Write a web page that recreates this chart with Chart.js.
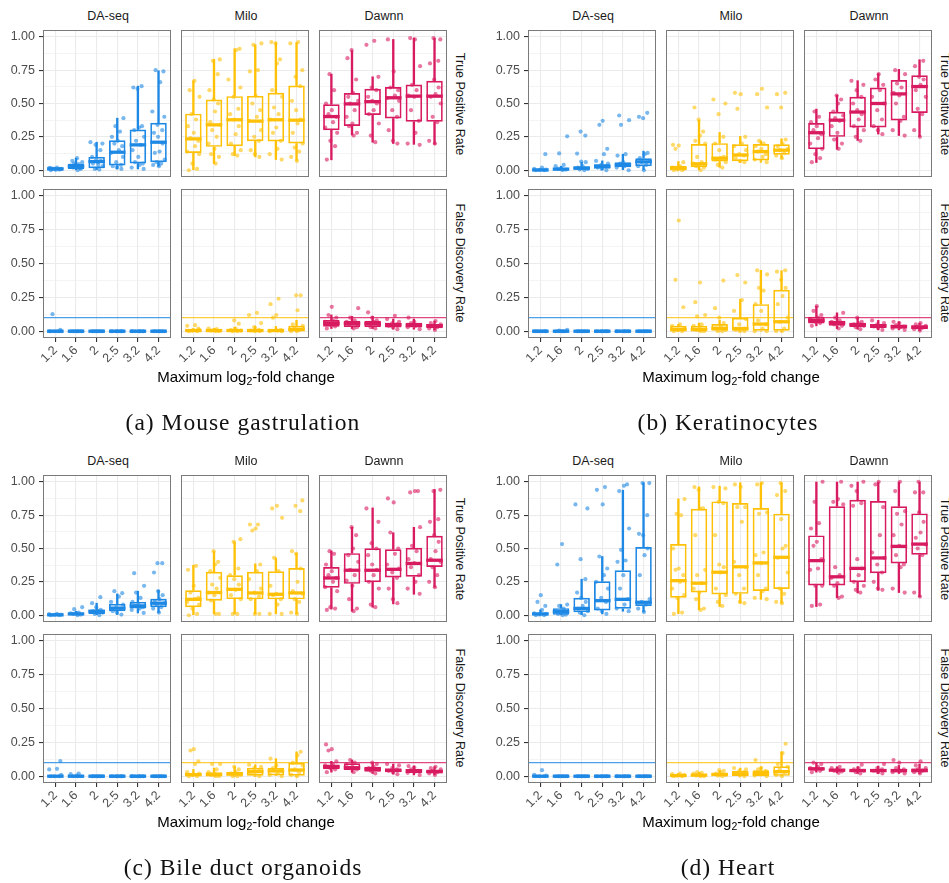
<!DOCTYPE html>
<html><head><meta charset="utf-8">
<script src="https://cdn.jsdelivr.net/npm/chart.js@4.4.1/dist/chart.umd.min.js"></script>
<style>
html,body{margin:0;padding:0;background:#fff;}
#root{position:relative;width:949px;height:883px;overflow:hidden;background:#fff;}
.lbl{position:absolute;transform:translate(-50%,-50%);white-space:nowrap;font-family:'Liberation Sans',Arial,sans-serif;line-height:1;}
.strip{font-size:12.5px;color:#1A1A1A;}
.vstrip{font-size:12.5px;color:#1A1A1A;writing-mode:vertical-rl;}
.xtitle{font-size:15px;color:#000;}
.xtitle sub{font-size:10.5px;vertical-align:-3px;line-height:0;}
.cap{font-family:'Liberation Serif','DejaVu Serif',serif;font-size:23.5px;color:#111;letter-spacing:1px;}
.facet{position:absolute;}
</style></head><body><div id="root"></div>
<script>
// ---------------- data ----------------
const categories = ['1.2','1.6','2','2.5','3.2','4.2'];
const methods = ['DA-seq','Milo','Dawnn'];
const metrics = ['True Positive Rate','False Discovery Rate'];
const captions = ['(a) Mouse gastrulation','(b) Keratinocytes','(c) Bile duct organoids','(d) Heart'];
const yMajorTicks = [0,0.25,0.5,0.75,1];
const yMinorTicks = [0.125,0.375,0.625,0.875];
const fdrTarget = 0.1;
// box stats per category: [lower whisker, Q1, median, Q3, upper whisker]

// (a) Mouse gastrulation
const mouseTprDaseqBox = [[0,0.005,0.01,0.015,0.02],[0,0.01,0.03,0.048,0.09],[0.005,0.015,0.065,0.10,0.21],[0.01,0.036,0.135,0.225,0.39],[0.01,0.05,0.19,0.305,0.63],[0.03,0.06,0.21,0.355,0.745]];
const mouseTprDaseqPts = [[0,0.005,0.01,0.01,0.015,0.02,0.008,0.012,0.003,0.018],[0,0.01,0.02,0.03,0.035,0.045,0.05,0.06,0.07,0.09,0.015,0.04],[0.005,0.01,0.03,0.05,0.06,0.07,0.08,0.1,0.15,0.19,0.2,0.21,0.04],[0.01,0.02,0.03,0.04,0.06,0.1,0.13,0.15,0.18,0.2,0.22,0.25,0.29,0.33,0.39],[0.01,0.02,0.04,0.05,0.06,0.1,0.15,0.19,0.22,0.25,0.3,0.32,0.33,0.61,0.62,0.63],[0.03,0.04,0.05,0.06,0.08,0.13,0.14,0.2,0.25,0.28,0.3,0.34,0.4,0.44,0.66,0.74,0.75]];
const mouseTprMiloBox = [[0,0.13,0.235,0.424,0.67],[0.05,0.175,0.34,0.53,0.83],[0.11,0.18,0.378,0.555,0.91],[0.1,0.218,0.368,0.557,0.94],[0.08,0.216,0.378,0.58,0.957],[0.073,0.2,0.375,0.635,0.957]];
const mouseTprMiloPts = [[0,0.01,0.05,0.12,0.14,0.18,0.22,0.24,0.28,0.33,0.38,0.42,0.55,0.6,0.67],[0.05,0.1,0.12,0.16,0.2,0.25,0.3,0.34,0.36,0.44,0.5,0.53,0.6,0.72,0.82,0.83],[0.11,0.12,0.15,0.2,0.27,0.33,0.38,0.42,0.46,0.55,0.62,0.68,0.9,0.91],[0.1,0.12,0.15,0.22,0.25,0.3,0.37,0.4,0.45,0.5,0.56,0.74,0.75,0.94,0.95],[0.08,0.12,0.16,0.22,0.28,0.32,0.38,0.42,0.47,0.55,0.6,0.8,0.83,0.95,0.96],[0.07,0.1,0.14,0.17,0.2,0.28,0.35,0.38,0.45,0.52,0.63,0.7,0.75,0.95,0.96]];
const mouseTprDawnnBox = [[0.078,0.30,0.402,0.494,0.72],[0.264,0.332,0.497,0.579,0.896],[0.21,0.414,0.514,0.61,0.70],[0.2,0.388,0.543,0.623,0.98],[0.194,0.363,0.555,0.642,0.99],[0.194,0.363,0.555,0.671,0.99]];
const mouseTprDawnnPts = [[0.08,0.18,0.22,0.28,0.32,0.36,0.4,0.42,0.45,0.5,0.6,0.72],[0.26,0.28,0.33,0.35,0.4,0.45,0.5,0.52,0.55,0.58,0.68,0.9,0.84],[0.21,0.26,0.35,0.42,0.45,0.5,0.52,0.55,0.6,0.62,0.7,0.94,0.97],[0.2,0.22,0.3,0.4,0.45,0.52,0.54,0.56,0.6,0.62,0.74,0.98],[0.19,0.2,0.28,0.37,0.45,0.55,0.56,0.6,0.64,0.78,0.99,0.98],[0.2,0.22,0.36,0.4,0.5,0.55,0.57,0.62,0.68,0.8,0.82,0.99,0.98]];
const mouseFdrDaseqBox = [[0,0,0,0,0],[0,0,0,0,0],[0,0,0,0,0],[0,0,0,0,0],[0,0,0,0,0],[0,0,0,0,0]];
const mouseFdrDaseqPts = [[0,0,0,0,0,0,0.01,0.126],[0,0,0,0,0,0,0,0],[0,0,0,0,0,0,0,0],[0,0,0,0,0,0,0,0],[0,0,0,0,0,0,0,0],[0,0,0,0,0,0,0,0]];
const mouseFdrMiloBox = [[0,0,0.005,0.01,0.02],[0,0,0.005,0.01,0.02],[0,0,0.005,0.012,0.03],[0,0,0.005,0.015,0.035],[0,0,0.005,0.015,0.035],[0,0,0.012,0.04,0.08]];
const mouseFdrMiloPts = [[0,0,0.005,0.01,0.04,0.045,0.02],[0,0,0.005,0.01,0.02,0.015],[0,0,0.005,0.01,0.02,0.056,0.08],[0,0,0.005,0.01,0.03,0.06,0.12,0.136],[0,0,0.005,0.01,0.1,0.12,0.2,0.24],[0,0,0.01,0.02,0.04,0.05,0.155,0.265,0.265]];
const mouseFdrDawnnBox = [[0.02,0.034,0.058,0.083,0.12],[0.02,0.032,0.058,0.078,0.11],[0.02,0.032,0.056,0.078,0.11],[0.015,0.027,0.049,0.063,0.09],[0.015,0.027,0.044,0.063,0.09],[0.01,0.022,0.041,0.053,0.075]];
const mouseFdrDawnnPts = [[0.02,0.035,0.05,0.06,0.07,0.08,0.1,0.12,0.18],[0.02,0.03,0.05,0.06,0.07,0.08,0.1,0.17],[0.02,0.03,0.05,0.06,0.07,0.08,0.1,0.14],[0.015,0.03,0.04,0.05,0.06,0.07,0.09,0.114],[0.015,0.03,0.04,0.045,0.06,0.07,0.1],[0.01,0.02,0.03,0.04,0.05,0.06,0.075]];

// (b) Keratinocytes
const keraTprDaseqBox = [[0,0,0.002,0.005,0.01],[0,0.003,0.008,0.015,0.03],[0,0.005,0.015,0.03,0.06],[0,0.012,0.03,0.044,0.07],[0,0.022,0.04,0.06,0.12],[0,0.03,0.063,0.09,0.143]];
const keraTprDaseqPts = [[0,0,0.002,0.005,0.01,0.02,0.12],[0,0.005,0.01,0.015,0.03,0.04,0.126,0.254],[0,0.005,0.01,0.02,0.03,0.06,0.065,0.125,0.26,0.29],[0,0.01,0.02,0.03,0.04,0.05,0.07,0.12,0.16,0.34,0.37],[0,0.02,0.03,0.04,0.05,0.06,0.11,0.12,0.34,0.375,0.41],[0,0.03,0.04,0.06,0.07,0.09,0.12,0.13,0.39,0.40,0.43]];
const keraTprMiloBox = [[0,0,0.015,0.034,0.065],[0,0.022,0.048,0.196,0.375],[0.022,0.065,0.09,0.203,0.283],[0.058,0.068,0.114,0.194,0.254],[0.06,0.073,0.14,0.196,0.22],[0.09,0.116,0.15,0.194,0.235]];
const keraTprMiloPts = [[0,0,0.005,0.01,0.02,0.03,0.06,0.16,0.185,0.19],[0,0.02,0.03,0.04,0.05,0.06,0.1,0.2,0.22,0.26,0.29,0.38,0.47],[0.02,0.04,0.06,0.08,0.09,0.1,0.15,0.2,0.25,0.42,0.5,0.53],[0.06,0.07,0.09,0.11,0.12,0.15,0.18,0.2,0.25,0.46,0.57,0.58],[0.06,0.08,0.1,0.12,0.14,0.16,0.18,0.2,0.22,0.47,0.57,0.61],[0.09,0.11,0.13,0.15,0.16,0.18,0.2,0.23,0.47,0.57,0.58]];
const keraTprDawnnBox = [[0.058,0.157,0.281,0.354,0.458],[0.157,0.25,0.375,0.438,0.562],[0.223,0.32,0.436,0.55,0.671],[0.271,0.32,0.5,0.62,0.724],[0.26,0.373,0.572,0.676,0.756],[0.252,0.429,0.627,0.712,0.828]];
const keraTprDawnnPts = [[0.06,0.09,0.12,0.16,0.2,0.24,0.27,0.3,0.33,0.36,0.4,0.44],[0.16,0.2,0.23,0.28,0.33,0.37,0.39,0.41,0.44,0.5,0.53,0.56],[0.22,0.25,0.3,0.33,0.38,0.42,0.45,0.5,0.55,0.6,0.64,0.67],[0.27,0.3,0.33,0.38,0.45,0.5,0.55,0.6,0.64,0.68,0.72],[0.26,0.3,0.37,0.4,0.5,0.56,0.58,0.62,0.65,0.72,0.75],[0.25,0.3,0.42,0.46,0.55,0.6,0.64,0.68,0.7,0.78,0.82]];
const keraFdrDaseqBox = [[0,0,0,0,0],[0,0,0,0,0],[0,0,0,0,0],[0,0,0,0,0],[0,0,0,0,0],[0,0,0,0,0]];
const keraFdrDaseqPts = [[0,0,0,0,0,0,0,0],[0,0,0,0,0,0,0.005,0.01],[0,0,0,0,0,0,0,0],[0,0,0,0,0,0,0,0],[0,0,0,0,0,0,0,0],[0,0,0,0,0,0,0,0]];
const keraFdrMiloBox = [[0,0,0.012,0.04,0.05],[0,0,0.012,0.04,0.06],[0,0,0.022,0.053,0.08],[0,0,0.02,0.1,0.235],[0,0,0.053,0.2,0.45],[0,0,0.07,0.306,0.447]];
const keraFdrMiloPts = [[0,0,0.01,0.02,0.04,0.05,0.177,0.38,0.818],[0,0,0.01,0.02,0.04,0.05,0.11,0.12,0.215,0.36],[0,0,0.01,0.02,0.04,0.06,0.1,0.17,0.374],[0,0,0.01,0.02,0.05,0.09,0.15,0.23,0.36,0.415],[0,0,0.02,0.05,0.08,0.15,0.2,0.3,0.32,0.42,0.45],[0,0,0.02,0.07,0.1,0.2,0.26,0.32,0.38,0.44,0.45]];
const keraFdrDawnnBox = [[0.04,0.058,0.08,0.107,0.185],[0.02,0.041,0.063,0.078,0.136],[0.015,0.032,0.049,0.063,0.1],[0.01,0.024,0.041,0.053,0.08],[0.01,0.02,0.034,0.049,0.07],[0.005,0.015,0.03,0.044,0.06]];
const keraFdrDawnnPts = [[0.04,0.06,0.07,0.08,0.09,0.1,0.12,0.15,0.185],[0.02,0.04,0.05,0.06,0.07,0.08,0.1,0.136],[0.015,0.03,0.04,0.05,0.06,0.07,0.1],[0.01,0.025,0.035,0.04,0.05,0.06,0.08],[0.01,0.02,0.03,0.035,0.045,0.06,0.07],[0.005,0.015,0.025,0.03,0.04,0.05,0.06]];

// (c) Bile duct organoids
const bileTprDaseqBox = [[0,0,0.003,0.005,0.01],[0,0.005,0.01,0.015,0.03],[0,0.01,0.03,0.04,0.09],[0.005,0.03,0.053,0.085,0.16],[0.017,0.05,0.07,0.1,0.18],[0.02,0.06,0.09,0.124,0.187]];
const bileTprDaseqPts = [[0,0,0.003,0.005,0.008,0.01],[0,0.005,0.01,0.012,0.015,0.02,0.045,0.06],[0,0.01,0.02,0.03,0.035,0.04,0.06,0.09,0.135],[0.005,0.02,0.03,0.05,0.06,0.08,0.1,0.14,0.165,0.18],[0.017,0.04,0.05,0.06,0.07,0.08,0.1,0.13,0.17,0.22,0.315],[0.02,0.05,0.06,0.08,0.09,0.1,0.12,0.15,0.18,0.32,0.39,0.39]];
const bileTprMiloBox = [[0,0.06,0.119,0.187,0.375],[0.01,0.109,0.17,0.325,0.477],[0.01,0.121,0.194,0.3,0.55],[0.01,0.119,0.167,0.325,0.385],[0.01,0.119,0.157,0.33,0.43],[0.01,0.119,0.167,0.354,0.465]];
const bileTprMiloPts = [[0,0.01,0.05,0.08,0.1,0.12,0.13,0.17,0.22,0.34,0.37],[0.01,0.01,0.11,0.15,0.17,0.2,0.23,0.28,0.33,0.38,0.4,0.48],[0.01,0.01,0.12,0.15,0.19,0.23,0.27,0.3,0.35,0.55,0.57],[0.01,0.01,0.12,0.14,0.17,0.2,0.27,0.33,0.38,0.635,0.65,0.68,0.68],[0.01,0.01,0.08,0.12,0.15,0.16,0.22,0.33,0.43,0.73,0.8,0.82],[0.01,0.02,0.1,0.12,0.16,0.18,0.25,0.35,0.46,0.48,0.78,0.82,0.86]];
const bileTprDawnnBox = [[0.046,0.206,0.279,0.361,0.482],[0.03,0.235,0.337,0.465,0.659],[0.06,0.247,0.337,0.501,0.804],[0.085,0.283,0.344,0.494,0.618],[0.157,0.288,0.388,0.506,0.659],[0.21,0.361,0.412,0.596,0.942]];
const bileTprDawnnPts = [[0.04,0.05,0.06,0.18,0.21,0.25,0.28,0.3,0.33,0.38,0.46,0.48],[0.03,0.05,0.12,0.22,0.26,0.3,0.34,0.4,0.45,0.5,0.6,0.66],[0.06,0.08,0.2,0.25,0.3,0.34,0.38,0.45,0.5,0.54,0.7,0.8],[0.09,0.12,0.2,0.28,0.32,0.35,0.38,0.46,0.5,0.62,0.845,0.875],[0.16,0.2,0.25,0.3,0.36,0.39,0.42,0.48,0.52,0.66,0.92,0.93,0.93],[0.21,0.25,0.3,0.36,0.4,0.42,0.48,0.55,0.6,0.7,0.72,0.93,0.94]];
const bileFdrDaseqBox = [[0,0,0,0,0],[0,0,0,0,0],[0,0,0,0,0],[0,0,0,0,0],[0,0,0,0,0],[0,0,0,0,0]];
const bileFdrDaseqPts = [[0,0,0,0.01,0.05,0.055,0.112],[0,0,0,0.005,0.015,0.02],[0,0,0,0,0,0,0,0],[0,0,0,0,0,0,0,0],[0,0,0,0,0,0,0,0],[0,0,0,0,0,0,0,0]];
const bileFdrMiloBox = [[0,0,0.012,0.024,0.05],[0,0,0.012,0.03,0.06],[0,0,0.017,0.034,0.07],[0,0,0.034,0.063,0.085],[0,0.005,0.039,0.063,0.13],[0,0,0.046,0.1,0.18]];
const bileFdrMiloPts = [[0,0,0.01,0.02,0.03,0.09,0.11,0.19,0.2],[0,0,0.01,0.02,0.03,0.05,0.09,0.09],[0,0,0.01,0.02,0.03,0.05,0.07],[0,0.01,0.02,0.04,0.06,0.07,0.085],[0,0.01,0.02,0.04,0.06,0.08,0.13],[0,0.01,0.03,0.05,0.08,0.1,0.155,0.18]];
const bileFdrDawnnBox = [[0.03,0.051,0.07,0.087,0.11],[0.03,0.046,0.063,0.095,0.12],[0.02,0.034,0.053,0.07,0.1],[0.015,0.029,0.044,0.058,0.09],[0.01,0.024,0.039,0.053,0.075],[0.01,0.022,0.034,0.049,0.07]];
const bileFdrDawnnPts = [[0.03,0.05,0.06,0.07,0.08,0.09,0.11,0.19,0.2,0.235],[0.03,0.05,0.06,0.07,0.09,0.1,0.12],[0.02,0.04,0.05,0.06,0.07,0.09,0.1],[0.015,0.03,0.04,0.05,0.06,0.08,0.09],[0.01,0.025,0.035,0.04,0.05,0.065,0.075],[0.01,0.02,0.03,0.04,0.05,0.06,0.07]];

// (d) Heart
const heartTprDaseqBox = [[0,0,0.01,0.017,0.04],[0,0.003,0.027,0.053,0.08],[0,0.022,0.051,0.131,0.27],[0.01,0.036,0.109,0.254,0.44],[0.03,0.048,0.119,0.337,0.937],[0.025,0.07,0.097,0.511,0.993]];
const heartTprDaseqPts = [[0,0,0.005,0.01,0.015,0.04,0.07,0.1,0.15],[0,0.005,0.01,0.02,0.03,0.05,0.07,0.08,0.38,0.533],[0,0.02,0.03,0.05,0.07,0.1,0.13,0.17,0.27,0.42,0.8,0.83],[0.01,0.03,0.05,0.1,0.13,0.2,0.25,0.3,0.35,0.44,0.83,0.94,0.96],[0.03,0.05,0.08,0.12,0.2,0.3,0.4,0.41,0.49,0.65,0.93,0.97,0.98],[0.025,0.05,0.08,0.1,0.12,0.3,0.45,0.5,0.6,0.61,0.75,0.99,0.99]];
const heartTprMiloBox = [[0.012,0.131,0.259,0.533,0.872],[0.041,0.17,0.24,0.797,0.962],[0.065,0.155,0.322,0.853,0.967],[0.09,0.16,0.363,0.841,0.993],[0.119,0.182,0.392,0.804,0.993],[0.09,0.196,0.434,0.761,0.993]];
const heartTprMiloPts = [[0.01,0.02,0.13,0.15,0.2,0.25,0.3,0.34,0.35,0.5,0.75,0.76,0.87],[0.04,0.05,0.12,0.17,0.2,0.24,0.3,0.34,0.6,0.8,0.8,0.94,0.96],[0.07,0.1,0.15,0.2,0.32,0.36,0.38,0.6,0.84,0.85,0.95,0.96],[0.09,0.1,0.16,0.2,0.3,0.36,0.4,0.7,0.81,0.81,0.96,0.98],[0.12,0.13,0.18,0.2,0.3,0.39,0.45,0.47,0.76,0.77,0.98,0.99],[0.09,0.1,0.16,0.2,0.32,0.43,0.5,0.52,0.72,0.9,0.93,0.99]];
const heartTprDawnnBox = [[0.065,0.223,0.409,0.598,0.998],[0.131,0.223,0.288,0.816,0.998],[0.167,0.247,0.351,0.865,0.998],[0.187,0.315,0.429,0.855,0.998],[0.17,0.388,0.516,0.816,0.998],[0.138,0.453,0.533,0.763,0.998]];
const heartTprDawnnPts = [[0.07,0.08,0.22,0.22,0.34,0.35,0.42,0.52,0.55,0.65,0.69,0.85,1.0],[0.13,0.14,0.22,0.24,0.28,0.3,0.36,0.83,0.85,0.87,1.0],[0.17,0.19,0.22,0.25,0.3,0.35,0.42,0.82,0.84,0.93,1.0,0.97],[0.19,0.2,0.25,0.32,0.38,0.43,0.47,0.6,0.81,0.98,1.0],[0.17,0.2,0.36,0.38,0.45,0.52,0.6,0.68,0.76,0.78,0.93,1.0],[0.14,0.17,0.45,0.5,0.53,0.58,0.62,0.7,0.77,0.92,0.92,1.0]];
const heartFdrDaseqBox = [[0,0,0,0,0],[0,0,0,0,0],[0,0,0,0,0],[0,0,0,0,0],[0,0,0,0,0],[0,0,0,0,0]];
const heartFdrDaseqPts = [[0,0,0,0.005,0.01,0.045],[0,0,0,0,0,0,0,0],[0,0,0,0,0,0,0,0],[0,0,0,0,0,0,0,0],[0,0,0,0,0,0,0,0],[0,0,0,0,0,0,0,0]];
const heartFdrMiloBox = [[0,0,0.005,0.01,0.02],[0,0,0.008,0.015,0.03],[0,0,0.013,0.025,0.04],[0,0.002,0.015,0.039,0.06],[0,0.002,0.02,0.044,0.07],[0,0.003,0.034,0.073,0.18]];
const heartFdrMiloPts = [[0,0,0.005,0.01,0.015,0.02],[0,0,0.005,0.01,0.02,0.025,0.03],[0,0.005,0.01,0.02,0.03,0.04,0.045],[0,0.005,0.02,0.03,0.04,0.05,0.06],[0,0.005,0.02,0.04,0.05,0.06,0.12],[0,0.01,0.03,0.05,0.07,0.09,0.17,0.24]];
const heartFdrDawnnBox = [[0.03,0.045,0.055,0.063,0.1],[0.025,0.035,0.045,0.053,0.07],[0.02,0.032,0.042,0.05,0.07],[0.02,0.03,0.042,0.052,0.075],[0.02,0.028,0.042,0.053,0.08],[0.02,0.027,0.043,0.058,0.09]];
const heartFdrDawnnPts = [[0.03,0.04,0.05,0.055,0.06,0.07,0.09,0.1],[0.025,0.035,0.04,0.05,0.06,0.07],[0.02,0.03,0.04,0.05,0.06,0.085],[0.02,0.03,0.04,0.05,0.06,0.09],[0.02,0.03,0.04,0.05,0.06,0.1,0.12],[0.02,0.03,0.04,0.05,0.06,0.08,0.11]];

// ---------------- assembly ----------------
const panelBoxes = [
  [[mouseTprDaseqBox,mouseTprMiloBox,mouseTprDawnnBox],[mouseFdrDaseqBox,mouseFdrMiloBox,mouseFdrDawnnBox]],
  [[keraTprDaseqBox,keraTprMiloBox,keraTprDawnnBox],[keraFdrDaseqBox,keraFdrMiloBox,keraFdrDawnnBox]],
  [[bileTprDaseqBox,bileTprMiloBox,bileTprDawnnBox],[bileFdrDaseqBox,bileFdrMiloBox,bileFdrDawnnBox]],
  [[heartTprDaseqBox,heartTprMiloBox,heartTprDawnnBox],[heartFdrDaseqBox,heartFdrMiloBox,heartFdrDawnnBox]]
];
const panelPoints = [
  [[mouseTprDaseqPts,mouseTprMiloPts,mouseTprDawnnPts],[mouseFdrDaseqPts,mouseFdrMiloPts,mouseFdrDawnnPts]],
  [[keraTprDaseqPts,keraTprMiloPts,keraTprDawnnPts],[keraFdrDaseqPts,keraFdrMiloPts,keraFdrDawnnPts]],
  [[bileTprDaseqPts,bileTprMiloPts,bileTprDawnnPts],[bileFdrDaseqPts,bileFdrMiloPts,bileFdrDawnnPts]],
  [[heartTprDaseqPts,heartTprMiloPts,heartTprDawnnPts],[heartFdrDaseqPts,heartFdrMiloPts,heartFdrDawnnPts]]
];

// ---------------- style / layout ----------------
const COLORS = ['#1E88E5','#FFC107','#D81B60'];
const SANS = "'Liberation Sans', Arial, sans-serif";
const PANEL_DX = [0,485,0,485], PANEL_DY = [0,0,445,445];
const FACET_LEFT = [43,181,319], FACET_W = 130, FACET_H = 151;
const ROW_TOP = [28,187];
const JIT = [-0.22,0.18,-0.05,0.28,-0.3,0.08,0.24,-0.14,0.02,-0.26,0.13,-0.09,0.3,-0.18,0.05,0.2,-0.02];
const X_MIN = -0.6, X_MAX = categories.length - 0.4;
const yAllTicks = yMajorTicks.concat(yMinorTicks).sort((a,b)=>a-b);
const isMajor = v => yMajorTicks.some(m => Math.abs(m - v) < 1e-9);

function rgba(hex, a){
  const n = parseInt(hex.slice(1),16);
  return `rgba(${(n>>16)&255},${(n>>8)&255},${n&255},${a})`;
}

Chart.defaults.font.family = SANS;
Chart.defaults.animation = false;

const borderPlugin = {
  id:'panelBorder',
  afterDraw(chart){
    const {ctx, chartArea:a} = chart;
    ctx.save();
    ctx.strokeStyle = '#7A7A7A';
    ctx.lineWidth = 1;
    ctx.strokeRect(Math.round(a.left)+0.5, Math.round(a.top)+0.5, Math.round(a.right-a.left)-1, Math.round(a.bottom-a.top)-1);
    ctx.restore();
  }
};

const root = document.getElementById('root');
function addLabel(cls, html, x, y){
  const d = document.createElement('div');
  d.className = 'lbl ' + cls;
  d.innerHTML = html;
  d.style.left = x + 'px'; d.style.top = y + 'px';
  root.appendChild(d);
}

function halfBox(ctx){
  const s = ctx.chart.scales.x;
  return Math.abs(s.getPixelForValue(0.4) - s.getPixelForValue(0));
}

function makeFacet(p, r, c){
  const showY = c === 0, showX = r === 1;
  const yW = showY ? 43 : 8;
  const xH = showX ? 34 : 0;
  const left = PANEL_DX[p] + FACET_LEFT[c] - yW;
  const top = PANEL_DY[p] + ROW_TOP[r];
  const W = yW + FACET_W, H = FACET_H + xH;
  const div = document.createElement('div');
  div.className = 'facet';
  div.style.left = left+'px'; div.style.top = top+'px';
  div.style.width = W+'px'; div.style.height = H+'px';
  const cv = document.createElement('canvas');
  cv.width = W; cv.height = H;
  cv.style.width = W+'px'; cv.style.height = H+'px';
  div.appendChild(cv); root.appendChild(div);

  const col = COLORS[c];
  const box = panelBoxes[p][r][c];
  const pts = panelPoints[p][r][c];
  const datasets = [];
  if (r === 1) {
    datasets.push({type:'line', data:[{x:X_MIN,y:fdrTarget},{x:X_MAX,y:fdrTarget}], borderColor:rgba(col,0.8), borderWidth:1.2, pointRadius:0, fill:false, order:0});
  }
  datasets.push({type:'scatter',
    data: pts.flatMap((arr,i)=>arr.map((v,j)=>({x:i + JIT[(j + i*5) % JIT.length], y:v}))),
    pointRadius:2.1, pointBackgroundColor:rgba(col,0.6), pointBorderWidth:0, pointHoverRadius:2.1, order:1});
  datasets.push({type:'scatter',
    data: box.map((b,i)=>({x:i, y:b[2]})),
    pointStyle:'line', pointRadius:halfBox, pointHoverRadius:halfBox, pointBorderColor:col, pointBorderWidth:3.3, order:2});
  datasets.push({type:'bar', data: box.map((b,i)=>({x:i, y:[b[1],b[3]]})),
    backgroundColor:'rgba(255,255,255,0)', borderColor:col, borderWidth:1.7, borderSkipped:false,
    grouped:false, barPercentage:0.8, categoryPercentage:1, order:3});
  datasets.push({type:'bar', data: box.map((b,i)=>({x:i, y:[b[0],b[1]]})),
    backgroundColor:col, borderWidth:0, barThickness:1.7, grouped:false, order:4});
  datasets.push({type:'bar', data: box.map((b,i)=>({x:i, y:[b[3],b[4]]})),
    backgroundColor:col, borderWidth:0, barThickness:1.7, grouped:false, order:4});

  new Chart(cv, {
    type:'bar',
    data:{datasets},
    plugins:[borderPlugin],
    options:{
      responsive:false, animation:false, events:[],
      layout:{padding:0},
      plugins:{legend:{display:false}, tooltip:{enabled:false}},
      scales:{
        x:{type:'linear', min:X_MIN, max:X_MAX, offset:false,
          afterBuildTicks: s => { s.ticks = categories.map((_,i)=>({value:i})); },
          ticks:{display:showX, autoSkip:false, minRotation:45, maxRotation:45, padding:1,
            callback: v => categories[v], color:'#4D4D4D', font:{size:12.5, family:SANS}},
          grid:{offset:false, color:'#EBEBEB', lineWidth:1.1, drawTicks:showX, tickLength:4, tickColor:'#333333'},
          border:{display:false},
          afterFit: s => { s.height = xH; s.paddingLeft = 0; s.paddingRight = 0; }
        },
        y:{type:'linear', min:-0.05, max:1.05,
          afterBuildTicks: s => { s.ticks = yAllTicks.map(v=>({value:v})); },
          ticks:{display:showY, autoSkip:false, padding:4,
            callback: v => isMajor(v) ? v.toFixed(2) : '', color:'#4D4D4D', font:{size:12.5, family:SANS}},
          grid:{color:'#EBEBEB',
            lineWidth: ctx => isMajor(ctx.tick.value) ? 1.1 : 0.55,
            drawTicks:showY, tickLength:4,
            tickColor: ctx => isMajor(ctx.tick.value) ? '#333333' : 'rgba(0,0,0,0)'},
          border:{display:false},
          afterFit: s => { s.width = yW; s.paddingTop = 0; s.paddingBottom = 0; }
        }
      }
    }
  });
}

for (let p = 0; p < 4; p++) {
  const dx = PANEL_DX[p], dy = PANEL_DY[p];
  for (let r = 0; r < 2; r++) for (let c = 0; c < 3; c++) makeFacet(p, r, c);
  methods.forEach((m,c) => addLabel('strip', m, dx + FACET_LEFT[c] + FACET_W/2, dy + 16));
  metrics.forEach((m,r) => addLabel('vstrip', m, dx + 460, dy + ROW_TOP[r] + FACET_H/2));
  addLabel('xtitle', 'Maximum log<sub>2</sub>-fold change', dx + 246, dy + 376);
  addLabel('cap', captions[p], dx + 243, dy + 423);
}
</script></body></html>
